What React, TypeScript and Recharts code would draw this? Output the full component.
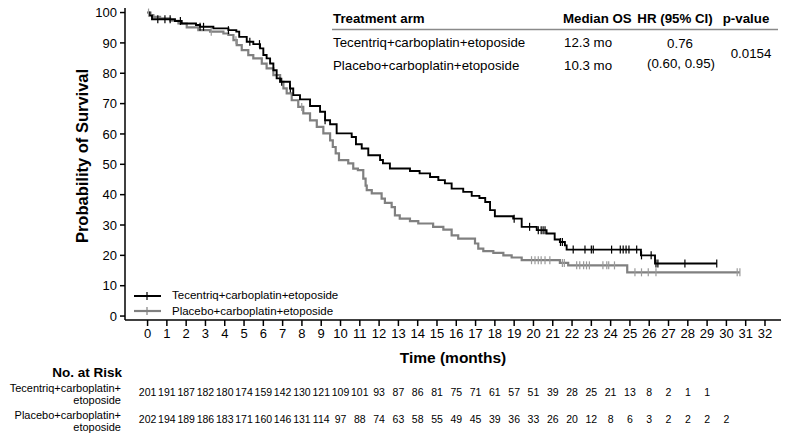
import React from "react";
import { ComposedChart, Line, Scatter, XAxis, YAxis, Legend } from "recharts";

// Kaplan-Meier steps [month, % surviving]
const tecentriqSteps = [
  [0, 100], [0.1, 99.0], [0.23, 97.8], [1.42, 97.2], [1.77, 96.4], [2.51, 95.9],
  [2.72, 95.3], [3.41, 94.8], [4.19, 94.2], [4.6, 93.7], [4.75, 92.0], [5.14, 90.4],
  [5.48, 89.6], [5.83, 88.2], [6.0, 86.0], [6.17, 84.9], [6.35, 83.2], [6.52, 81.0],
  [6.69, 78.3], [6.87, 77.2], [7.38, 75.0], [7.55, 72.8], [7.9, 71.4], [8.42, 69.2],
  [8.94, 67.3], [9.2, 64.5], [9.46, 63.2], [9.8, 60.2], [10.58, 59.0], [10.8, 56.6],
  [11.1, 55.2], [11.44, 53.0], [12.05, 51.4], [12.2, 50.3], [12.56, 48.6], [13.6, 47.8],
  [14.1, 47.0], [14.64, 45.8], [15.07, 44.8], [15.41, 43.7], [15.76, 42.0], [16.36, 40.9],
  [16.8, 39.6], [17.2, 38.9], [17.5, 37.6], [17.75, 34.9], [18.0, 32.9], [18.95, 32.1],
  [19.39, 29.4], [20.17, 28.3], [20.68, 27.2], [21.1, 25.2], [21.37, 24.4], [21.63, 23.3],
  [21.72, 21.9], [25.57, 20.0], [26.3, 17.3], [29.5, 17.3],
];

const placeboSteps = [
  [0, 100], [0.15, 99.2], [0.3, 98.6], [0.65, 98.1], [1.17, 97.3], [1.6, 96.4],
  [2.03, 95.1], [2.63, 94.2], [3.24, 93.7], [3.93, 93.1], [4.19, 92.6], [4.45, 90.9],
  [4.62, 89.3], [4.88, 87.6], [5.22, 86.0], [5.48, 84.9], [5.92, 83.2], [6.17, 81.6],
  [6.52, 79.4], [6.87, 77.2], [7.04, 75.0], [7.21, 73.4], [7.47, 71.1], [7.81, 68.9],
  [8.07, 66.8], [8.42, 64.5], [8.77, 62.3], [9.11, 60.2], [9.46, 57.9], [9.6, 55.7],
  [9.75, 53.6], [9.92, 51.4], [10.4, 50.3], [10.66, 48.6], [10.9, 48.1], [11.18, 45.3],
  [11.3, 43.0], [11.36, 41.5], [11.62, 40.4], [12.13, 38.7], [12.3, 37.3], [12.65, 35.9],
  [12.82, 33.2], [13.07, 32.1], [13.6, 31.3], [14.03, 30.5], [14.8, 29.4], [15.33, 28.5],
  [15.76, 26.6], [16.1, 25.5], [16.97, 23.9], [17.14, 22.2], [17.4, 21.4], [17.92, 20.8],
  [18.44, 20.0], [18.87, 19.3], [19.39, 18.4], [21.37, 17.5], [21.8, 16.7], [24.86, 14.4],
  [30.7, 14.4],
];

// censored observations (months)
const tecentriqCensored = [
  0.53, 0.9, 1.17, 1.7, 2.72, 2.9, 4.19, 5.3, 5.8, 6.95, 7.4, 9.2, 19.0, 19.8, 20.25,
  20.4, 20.5, 20.6, 21.4, 21.5, 22.06, 22.67, 23.0, 23.1, 24.05, 24.5, 24.65, 24.8,
  24.95, 25.35, 25.6, 26.1, 26.35, 26.45, 27.85, 29.5,
];
const placeboCensored = [
  0.05, 3.3, 4.58, 7.99, 19.9, 20.08, 20.25, 20.4, 20.6, 20.85, 21.5, 21.6, 22.24, 22.4,
  22.6, 22.75, 22.9, 23.6, 23.8, 23.9, 24.2, 25.26, 25.6, 25.95, 26.35, 30.56, 30.7,
];

const atRiskTecentriq = [
  201, 191, 187, 182, 180, 174, 159, 142, 130, 121, 109, 101, 93, 87, 86, 81, 75, 71,
  61, 57, 51, 39, 28, 25, 21, 13, 8, 2, 1, 1,
];
const atRiskPlacebo = [
  202, 194, 189, 186, 183, 171, 160, 146, 131, 114, 97, 88, 74, 63, 58, 55, 49, 45, 39,
  36, 33, 26, 20, 12, 8, 6, 3, 2, 2, 2, 2,
];

const monthTicks = [
  0, 1, 2, 3, 4, 5, 6, 7, 8, 9, 10, 11, 12, 13, 14, 15, 16, 17, 18, 19, 20, 21, 22, 23,
  24, 25, 26, 27, 28, 29, 30, 31, 32,
];
const survivalTicks = [0, 10, 20, 30, 40, 50, 60, 70, 80, 90, 100];

const TEC = "Tecentriq+carboplatin+etoposide";
const PLA = "Placebo+carboplatin+etoposide";
const BLACK = "#000000";
const GREY = "#808080";
const FONT = "'Liberation Sans', Arial, sans-serif";
const X_DOMAIN = [-1.17, 32.83];

const survivalAt = (steps: number[][], t: number) => {
  let s = 100;
  for (const [st, sv] of steps) {
    if (st <= t) s = sv;
    else break;
  }
  return s;
};

const tecentriqData = tecentriqSteps.map(([t, s]) => ({ t, s }));
const placeboData = placeboSteps.map(([t, s]) => ({ t, s }));
const tecentriqMarks = tecentriqCensored.map((t) => ({ t, s: survivalAt(tecentriqSteps, t) }));
const placeboMarks = placeboCensored.map((t) => ({ t, s: survivalAt(placeboSteps, t) }));

// number-at-risk table, one row per month (feeds the two risk axes)
const riskTable = atRiskPlacebo.map((p, i) => ({ t: i, pla: p, tec: atRiskTecentriq[i] }));

const censorShape = (color: string) => (props: any) => {
  const { cx, cy } = props;
  if (cx == null || cy == null) return <g />;
  return <line x1={cx} x2={cx} y1={cy - 4} y2={cy + 4} stroke={color} strokeWidth={1.2} />;
};

const YTitle = (props: any) => {
  const vb = props.viewBox ?? { x: 65, y: 8, width: 60, height: 312 };
  const cx = vb.x + 17;
  const cy = vb.y + vb.height / 2 - 8;
  return (
    <text
      x={cx}
      y={cy}
      transform={`rotate(-90 ${cx} ${cy})`}
      textAnchor="middle"
      dominantBaseline="central"
      fontFamily={FONT}
      fontSize={16.5}
      fontWeight="bold"
      fill="#000"
    >
      Probability of Survival
    </text>
  );
};

const legendItems = [
  { name: TEC, color: BLACK, width: 2 },
  { name: PLA, color: GREY, width: 2.2 },
];

const LegendBox = () => (
  <div style={{ fontFamily: FONT, fontSize: 11.5, lineHeight: "15.5px", color: "#000" }}>
    {legendItems.map((it) => (
      <div key={it.name} style={{ display: "flex", alignItems: "center", height: 15.5 }}>
        <svg width={30} height={12} style={{ marginRight: 10 }}>
          <line x1={2} x2={29} y1={6} y2={6} stroke={it.color} strokeWidth={it.width} />
          <line x1={15} x2={15} y1={2} y2={10} stroke={it.color} strokeWidth={1.2} />
        </svg>
        <span>{it.name}</span>
      </div>
    ))}
  </div>
);

const tick13 = { fill: "#000", fontSize: 13, fontFamily: FONT };
const riskTick = { fill: "#000", fontSize: 10.5, fontFamily: FONT };

export default function App() {
  return (
    <div style={{ position: "absolute", left: 0, top: 0, width: 786, height: 437, background: "#fff" }}>
      <ComposedChart
        width={786}
        height={437}
        data={riskTable}
        margin={{ top: 8, right: 5, bottom: 12, left: 65 }}
      >
        <XAxis
          xAxisId="main"
          dataKey="t"
          type="number"
          domain={X_DOMAIN}
          ticks={monthTicks}
          allowDataOverflow
          interval={0}
          height={45}
          tickSize={6}
          tickMargin={3}
          tick={tick13}
          axisLine={{ stroke: "#000", strokeWidth: 1.5 }}
          tickLine={{ stroke: "#000", strokeWidth: 1.5 }}
          label={{
            value: "Time (months)",
            position: "insideBottom",
            offset: 2,
            fill: "#000",
            fontSize: 15.5,
            fontWeight: "bold",
            fontFamily: FONT,
          }}
        />
        <XAxis
          xAxisId="risk1"
          dataKey="t"
          type="number"
          domain={X_DOMAIN}
          ticks={atRiskTecentriq.map((_, i) => i)}
          tickFormatter={(v: number) => String(atRiskTecentriq[v] ?? "")}
          allowDataOverflow
          interval={0}
          height={30}
          tickSize={0}
          tickMargin={24}
          tick={riskTick}
          axisLine={false}
          tickLine={false}
        />
        <XAxis
          xAxisId="risk2"
          dataKey="t"
          type="number"
          domain={X_DOMAIN}
          ticks={atRiskPlacebo.map((_, i) => i)}
          tickFormatter={(v: number) => String(atRiskPlacebo[v] ?? "")}
          allowDataOverflow
          interval={0}
          height={30}
          tickSize={0}
          tickMargin={21}
          tick={riskTick}
          axisLine={false}
          tickLine={false}
        />
        <YAxis
          dataKey="s"
          type="number"
          domain={[-1.3, 101.5]}
          ticks={survivalTicks}
          allowDataOverflow
          interval={0}
          width={60}
          tickSize={5}
          tickMargin={3}
          tick={tick13}
          axisLine={{ stroke: "#000", strokeWidth: 1.5 }}
          tickLine={{ stroke: "#000", strokeWidth: 1.5 }}
          label={{ content: YTitle }}
        />
        <Line
          xAxisId="main"
          data={placeboData}
          dataKey="s"
          name={PLA}
          type="stepAfter"
          stroke={GREY}
          strokeWidth={2.2}
          dot={false}
          activeDot={false}
          isAnimationActive={false}
        />
        <Line
          xAxisId="main"
          data={tecentriqData}
          dataKey="s"
          name={TEC}
          type="stepAfter"
          stroke={BLACK}
          strokeWidth={1.9}
          dot={false}
          activeDot={false}
          isAnimationActive={false}
        />
        <Scatter
          xAxisId="main"
          data={placeboMarks}
          dataKey="s"
          shape={censorShape("#9a9a9a")}
          legendType="none"
          isAnimationActive={false}
        />
        <Scatter
          xAxisId="main"
          data={tecentriqMarks}
          dataKey="s"
          shape={censorShape(BLACK)}
          legendType="none"
          isAnimationActive={false}
        />
        <Legend
          layout="horizontal"
          verticalAlign="middle"
          align="center"
          wrapperStyle={{ left: 132, top: 288, width: 260, height: 32 }}
          content={LegendBox}
        />
      </ComposedChart>

      <svg
        width={786}
        height={437}
        style={{ position: "absolute", left: 0, top: 0, pointerEvents: "none" }}
        fontFamily={FONT}
        fill="#000"
      >
        <g fontSize={13.3}>
          <text x={333} y={23} fontWeight="bold">Treatment arm</text>
          <text x={563} y={23} fontWeight="bold">Median OS</text>
          <text x={675} y={23} fontWeight="bold" textAnchor="middle">HR (95% CI)</text>
          <text x={746} y={23} fontWeight="bold" textAnchor="middle">p-value</text>
          <line x1={332} x2={778} y1={29.5} y2={29.5} stroke="#8a8a8a" strokeWidth={1.5} />
          <text x={333} y={46.5}>{TEC}</text>
          <text x={564} y={46.5}>12.3 mo</text>
          <text x={680} y={48} textAnchor="middle">0.76</text>
          <text x={681} y={68} textAnchor="middle">(0.60, 0.95)</text>
          <text x={751} y={58} textAnchor="middle">0.0154</text>
          <text x={333} y={69.5}>{PLA}</text>
          <text x={564} y={69.5}>10.3 mo</text>
        </g>
        <text x={122} y={377} fontSize={13.5} fontWeight="bold" textAnchor="end">No. at Risk</text>
        <g fontSize={11} textAnchor="end">
          <text x={121} y={391.5}>Tecentriq+carboplatin+</text>
          <text x={121} y={404}>etoposide</text>
          <text x={121} y={418.5}>Placebo+carboplatin+</text>
          <text x={121} y={431}>etoposide</text>
        </g>
      </svg>
    </div>
  );
}
